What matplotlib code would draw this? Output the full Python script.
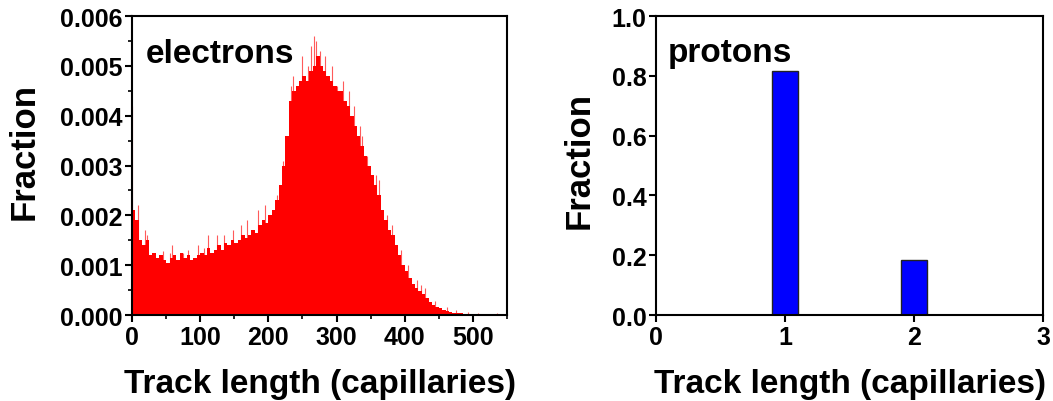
import matplotlib
matplotlib.use("Agg")
import matplotlib.pyplot as plt
from matplotlib.ticker import MultipleLocator, FormatStrFormatter

plt.rcParams['font.family'] = ['Liberation Sans', 'DejaVu Sans']
plt.rcParams['font.weight'] = 'bold'

# electrons: track length histogram (5-capillary bins after the first few)
e_edges = [0, 1, 2] + list(range(5, 555, 5))
e_frac = [
    0.0042, 0.0026, 0.0021,
    0.0019, 0.0015, 0.0014, 0.0015, 0.0012, 0.00125, 0.00115, 0.0012, 0.0011, 0.00105,
    0.00115, 0.0012, 0.0011, 0.00125, 0.00115, 0.0012, 0.0011, 0.00115, 0.0012, 0.00125,
    0.0012, 0.00135, 0.00125, 0.0013, 0.0014, 0.0013, 0.00145, 0.0014, 0.0015, 0.00145,
    0.0015, 0.0016, 0.00155, 0.0016, 0.0017, 0.00165, 0.0018, 0.0019, 0.00185, 0.0020,
    0.0021, 0.0023, 0.0026, 0.0030, 0.0036, 0.0043, 0.0045, 0.0046, 0.0047, 0.0048,
    0.0047, 0.0049, 0.0050, 0.0052, 0.0050, 0.0049, 0.0048, 0.0047, 0.0046, 0.0045,
    0.0045, 0.0043, 0.0042, 0.0040, 0.0038, 0.0036, 0.0034, 0.0032, 0.0030, 0.0028,
    0.0026, 0.0024, 0.0021, 0.0019, 0.0017, 0.0016, 0.0014, 0.0012, 0.0010, 0.00088,
    0.00075, 0.00062, 0.00055, 0.00048, 0.00042, 0.00034, 0.00026, 0.00021, 0.00017, 0.00014,
    0.00011, 0.00009, 0.00007, 0.00005, 0.00005, 0.00004, 0.00003, 0.00003, 0.00002, 0.00002,
    0.00001, 0.00001, 0.00001, 0.00001, 0.00001, 0.00001, 0.00001, 0.00001, 0.00001,
]

# single-bin spikes above the envelope
spike_len = [0, 8, 19, 22, 45, 55, 58, 75, 82, 97, 105, 112, 125, 135, 148, 160, 168, 185, 195,
             213, 222, 233, 236, 249, 258, 263, 267, 270, 276, 283, 293, 300, 310, 318, 326,
             335, 338, 345, 358, 362, 374, 382, 395, 405, 418, 424, 430, 445, 462, 475, 493,
             508, 535]
spike_frac = [0.0042, 0.0022, 0.0017, 0.0016, 0.00128, 0.00125, 0.0014, 0.00125, 0.0013, 0.0014,
              0.00135, 0.0016, 0.0016, 0.0016, 0.0017, 0.0018, 0.0019, 0.0021, 0.0022,
              0.0024, 0.0031, 0.0046, 0.0048, 0.0052, 0.0050, 0.0054, 0.0056, 0.0055,
              0.0053, 0.0052, 0.0050, 0.0046, 0.0047, 0.0045, 0.0042, 0.0038, 0.0036,
              0.0032, 0.0028, 0.0027, 0.0020, 0.0018, 0.0013, 0.0010, 0.0007, 0.0006,
              0.00055, 0.00028, 0.00016, 0.0001, 0.00007, 0.00005, 0.00004]

# protons
p_len = [1, 2]
p_frac = [0.815, 0.183]

fig = plt.figure(figsize=(10.53, 4.02), dpi=100)
ax1 = fig.add_axes([0.1254, 0.2139, 0.3561, 0.7438])
ax2 = fig.add_axes([0.623, 0.2139, 0.3675, 0.7438])

# left panel
ax1.vlines(spike_len, 0, spike_frac, color='#ff5a5a', linewidth=0.8, zorder=1)
ax1.stairs(e_frac, e_edges, fill=True, color='#ff0000', zorder=2)
ax1.set_xlim(0, 550)
ax1.set_ylim(0, 0.006)
ax1.xaxis.set_major_locator(MultipleLocator(100))
ax1.xaxis.set_minor_locator(MultipleLocator(50))
ax1.yaxis.set_major_locator(MultipleLocator(0.001))
ax1.yaxis.set_minor_locator(MultipleLocator(0.0005))
ax1.yaxis.set_major_formatter(FormatStrFormatter('%.3f'))
ax1.set_ylabel('Fraction', fontsize=25, fontweight='bold')
ax1.yaxis.set_label_coords(-0.245, 0.55)
ax1.set_xlabel('Track length (capillaries)', fontsize=24, fontweight='bold', labelpad=14)
ax1.text(0.037, 0.925, 'electrons', transform=ax1.transAxes, fontsize=24,
         fontweight='bold', va='top', ha='left')

# right panel
ax2.bar(p_len, p_frac, width=0.2, color='#0000ff', edgecolor='#222222', linewidth=1)
ax2.set_xlim(0, 3)
ax2.set_ylim(0, 1.0)
ax2.xaxis.set_major_locator(MultipleLocator(1))
ax2.yaxis.set_major_locator(MultipleLocator(0.2))
ax2.yaxis.set_major_formatter(FormatStrFormatter('%.1f'))
ax2.set_ylabel('Fraction', fontsize=25, fontweight='bold')
ax2.yaxis.set_label_coords(-0.157, 0.52)
ax2.set_xlabel('Track length (capillaries)', fontsize=24, fontweight='bold', labelpad=14)
ax2.text(0.031, 0.93, 'protons', transform=ax2.transAxes, fontsize=24,
         fontweight='bold', va='top', ha='left')

for ax in (ax1, ax2):
    for s in ax.spines.values():
        s.set_linewidth(1.5)
    ax.tick_params(which='major', direction='out', length=5, width=1.5, labelsize=18, pad=2)
    ax.tick_params(which='minor', direction='out', length=3, width=1.2)
    for lab in ax.get_xticklabels() + ax.get_yticklabels():
        lab.set_fontweight('bold')

fig.savefig('out.png', dpi=100)
